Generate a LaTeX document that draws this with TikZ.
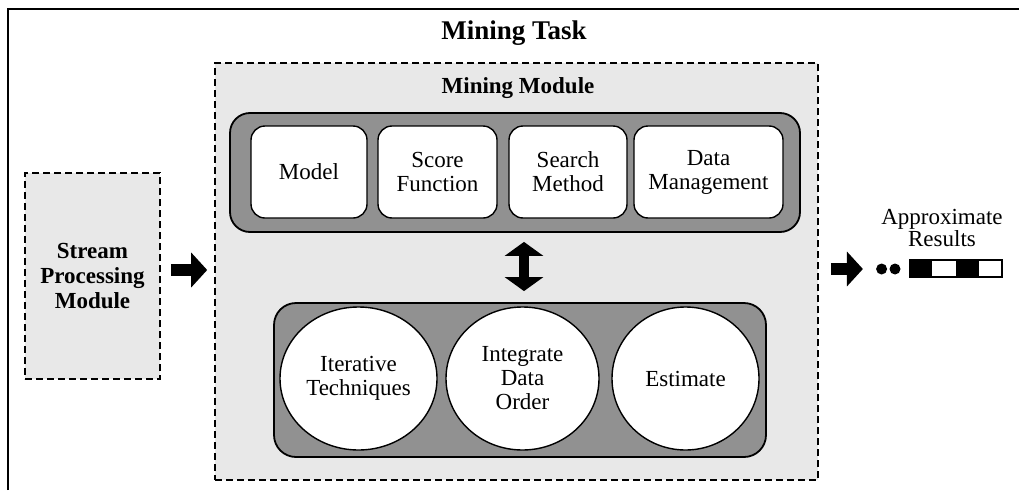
\documentclass[tikz,border=0pt]{standalone}
\usepackage{fontspec}
\setmainfont{Liberation Serif}
\usetikzlibrary{arrows.meta,positioning,shapes.geometric}

\definecolor{bandgray}{RGB}{145,145,145}
\definecolor{dotgray}{RGB}{232,232,232}

\tikzset{
  dashbox/.style = {draw, line width=1.6pt, dash pattern=on 7pt off 4pt, fill=dotgray, inner sep=0pt},
  band/.style = {draw, line width=1.8pt, fill=bandgray, rounded corners=20pt, inner sep=0pt},
  part/.style = {draw, line width=1.4pt, fill=white, rounded corners=14pt, inner sep=0pt, minimum height=92pt, align=center, font=\fontsize{23}{24}\selectfont},
  tech/.style = {draw, line width=1.4pt, fill=white, ellipse, inner sep=0pt, minimum height=143pt, align=center, font=\fontsize{23}{24}\selectfont},
  blockarrow/.style = {line width=12pt, -{Triangle[length=16pt,width=34pt]}},
  both/.style = {line width=10pt, {Triangle[length=14pt,width=38pt]}-{Triangle[length=14pt,width=38pt]}},
}

\begin{document}
\begin{tikzpicture}[x=1pt, y=-1pt]
	\useasboundingbox (0,0) rectangle (1019,490);

	% outer frame (open at bottom and right)
	\draw[line width=2.4pt] (8,490) -- (8,9) -- (1019,9);
	\node[font=\bfseries\fontsize{27}{29}\selectfont] (title) at (514,33) {Mining Task};

	% mining module
	\node[dashbox, minimum width=603pt, minimum height=417pt] (module) at (516.5,271.5) {};
	\node[font=\bfseries\fontsize{23}{24}\selectfont] (modlabel) at (518,88) {Mining Module};

	\node[band, minimum width=570pt, minimum height=119pt] (top) at (515,172.5) {};
	\node[part, minimum width=116pt] (model) at (309,172) {Model};
	\node[part, minimum width=119pt] (score) at (437.5,172) {Score\\Function};
	\node[part, minimum width=118pt] (search) at (568,172) {Search\\Method};
	\node[part, minimum width=149pt] (data) at (708.5,172) {Data\\Management};

	\node[band, rounded corners=22pt, minimum width=492pt, minimum height=154pt] (bottom) at (520,380) {};
	\node[tech, minimum width=157pt] (iter) at (358.5,378.5) {Iterative\\Techniques};
	\node[tech, minimum width=153pt] (order) at (522.5,378.5) {Integrate\\Data\\Order};
	\node[tech, minimum width=147pt] (est) at (685.5,378.5) {Estimate};

	\coordinate (axis) at (524,0);
	\draw[both, shorten <=9pt, shorten >=11pt] (top.south -| axis) -- (bottom.north -| axis);

	% stream side
	\node[dashbox, minimum width=135pt, minimum height=206pt, align=center, font=\bfseries\fontsize{23}{25}\selectfont] (stream) at (92.5,276) {Stream\\Processing\\Module};
	\draw[blockarrow, shorten <=10pt, shorten >=7pt] ([yshift=6pt]stream.east) -- ([yshift=6pt]module.west |- stream.east);

	% results side
	\node[align=center, font=\fontsize{23}{20}\selectfont] (approx) at (942,228) {Approximate\\Results};
	\node[draw, line width=1.2pt, minimum width=92pt, minimum height=17pt, inner sep=0pt] (bar) at (956,268.5) {};
	\fill (bar.north west) rectangle ++(23,17);
	\fill (bar.north) rectangle ++(23,17);
	\node[circle, fill, inner sep=0pt, minimum size=11pt] (dotb) at (895,269) {};
	\node[circle, fill, inner sep=0pt, minimum size=11pt, left=2pt of dotb] (dota) {};
	\draw[blockarrow, shorten <=12pt, shorten >=13pt] (module.east |- dota) -- (dota);
\end{tikzpicture}
\end{document}
